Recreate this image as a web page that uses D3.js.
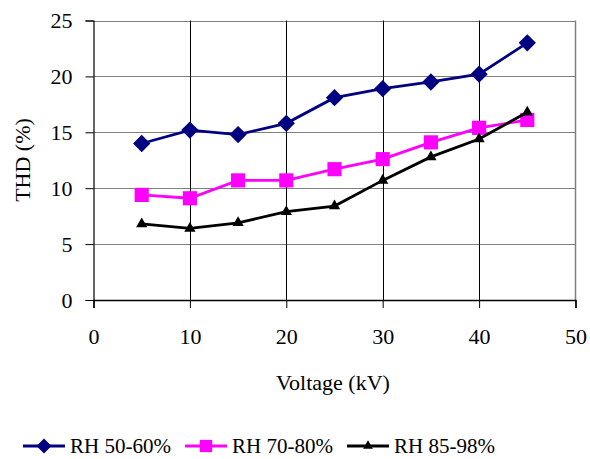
<!DOCTYPE html>
<html><head><meta charset="utf-8">
<script src="https://cdn.jsdelivr.net/npm/d3@7"></script>
<style>body{margin:0;background:#fff}svg{display:block}</style>
</head><body><svg id="c" width="590" height="459"></svg>
<script>
const voltage = [5, 10, 15, 20, 25, 30, 35, 40, 45];
const rh5060 = [14.0, 15.2, 14.8, 15.8, 18.1, 18.9, 19.5, 20.2, 23.0];
const rh7080 = [9.4, 9.1, 10.7, 10.7, 11.7, 12.6, 14.1, 15.4, 16.1];
const rh8598 = [6.8, 6.4, 6.9, 7.9, 8.4, 10.7, 12.8, 14.4, 16.8];
const xTicks = [0, 10, 20, 30, 40, 50];
const yTicks = [0, 5, 10, 15, 20, 25];
const seriesNames = ["RH 50-60%", "RH 70-80%", "RH 85-98%"];

const FONT = '"Liberation Serif"';
const svg = d3.select("#c");
const L = 93.5, R = 575.5, T = 20.5, B = 300;
const x = d3.scaleLinear().domain([0, 50]).range([L, R]);
const y = d3.scaleLinear().domain([0, 25]).range([B, T]);

function serif(sel, size) {
  sel.attr("font-family", "Liberation Serif").style("font-family", FONT).attr("font-size", size).style("font-size", null).attr("fill", "#000");
}

// horizontal grid (gray)
svg.append("g").selectAll("line").data(yTicks).join("line")
  .attr("x1", L).attr("x2", R).attr("y1", d => Math.round(y(d)) + 0.5).attr("y2", d => Math.round(y(d)) + 0.5)
  .attr("stroke", "#808080").attr("stroke-width", 1.2);
// vertical grid (black)
svg.append("g").selectAll("line").data(xTicks.slice(1, -1)).join("line")
  .attr("x1", d => Math.round(x(d)) + 0.5).attr("x2", d => Math.round(x(d)) + 0.5).attr("y1", T).attr("y2", B)
  .attr("stroke", "#000").attr("stroke-width", 1);
// right border
svg.append("line").attr("x1", R).attr("x2", R).attr("y1", T).attr("y2", B).attr("stroke", "#808080").attr("stroke-width", 1.5);

// axes
const xAxis = d3.axisBottom(x).tickValues(xTicks).tickSize(8).tickPadding(20).tickFormat(d3.format("d"));
const gx = svg.append("g").attr("transform", `translate(0,${B})`).call(xAxis);
gx.attr("font-family", "Liberation Serif").attr("font-size", 22);
gx.select(".domain").attr("stroke", "#000").attr("stroke-width", 1.5);
gx.selectAll(".tick line").attr("stroke", "#000");
serif(gx.selectAll("text"), 22);

const yAxis = d3.axisLeft(y).tickValues(yTicks).tickSize(8).tickPadding(13).tickFormat(d3.format("d"));
const gy = svg.append("g").attr("transform", `translate(${L},0)`).call(yAxis);
gy.attr("font-family", "Liberation Serif").attr("font-size", 22);
gy.select(".domain").attr("stroke", "#000").attr("stroke-width", 1.2);
gy.selectAll(".tick line").attr("stroke", "#000");
serif(gy.selectAll("text"), 22);

serif(svg.append("text").attr("x", 333).attr("y", 390).attr("text-anchor", "middle").text("Voltage (kV)"), 22);
serif(svg.append("text").attr("transform", "translate(30,160) rotate(-90)").attr("text-anchor", "middle").text("THD (%)"), 22);

const series = [
  {name: seriesNames[0], vals: rh5060, color: "#000080", sym: d3.symbolSquare, size: 150, rot: 45},
  {name: seriesNames[1], vals: rh7080, color: "#FF00FF", sym: d3.symbolSquare, size: 200, rot: 0},
  {name: seriesNames[2], vals: rh8598, color: "#000000", sym: d3.symbolTriangle, size: 55, rot: 0}
];
const line = d3.line().x(d => x(d[0])).y(d => y(d[1]));
series.forEach(s => {
  const pts = voltage.map((v, i) => [v, s.vals[i]]);
  svg.append("path").attr("d", line(pts)).attr("fill", "none").attr("stroke", s.color).attr("stroke-width", 2.8);
  svg.append("g").selectAll("path").data(pts).join("path")
    .attr("d", d3.symbol().type(s.sym).size(s.size))
    .attr("transform", d => `translate(${x(d[0])},${y(d[1])}) rotate(${s.rot})`)
    .attr("fill", s.color);
});

// legend
const legX = [23, 185, 347];
series.forEach((s, i) => {
  const g = svg.append("g").attr("transform", `translate(${legX[i]},446)`);
  g.append("line").attr("x1", 0).attr("x2", 42).attr("y1", 0).attr("y2", 0).attr("stroke", s.color).attr("stroke-width", 2.8);
  g.append("path").attr("d", d3.symbol().type(s.sym).size(s.size * 0.75)).attr("transform", `translate(21,0) rotate(${s.rot})`).attr("fill", s.color);
  serif(g.append("text").attr("x", 47).attr("y", 7).text(s.name), 21);
});
</script></body></html>
